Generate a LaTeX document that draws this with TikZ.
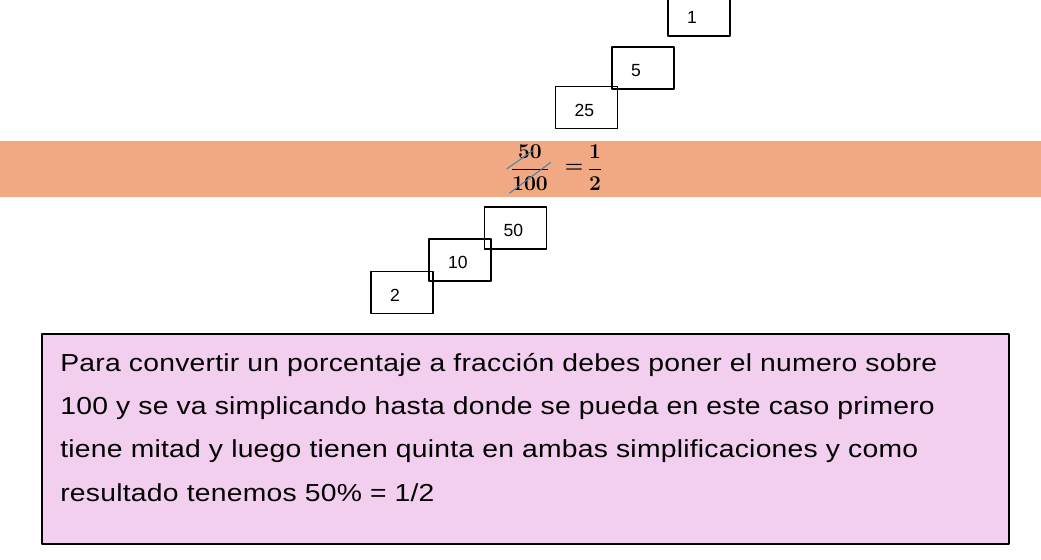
\documentclass[tikz,border=0pt]{standalone}
\usepackage{amsmath}
\usepackage{fontspec}
\setmainfont{Liberation Sans}
\newfontfamily\notefont[FakeStretch=1.15,LetterSpace=1]{Liberation Sans}
\usetikzlibrary{positioning}
\definecolor{bandc}{RGB}{241,169,131}
\definecolor{notec}{RGB}{242,207,238}
\definecolor{slashc}{RGB}{74,130,170}

\begin{document}
\begin{tikzpicture}[x=0.02cm,y=-0.02cm,line join=round,
  numbox/.style={draw,line width=1pt,minimum width=1.24cm,minimum height=0.84cm,inner xsep=0.38cm,text width=0.48cm,text height=1em,align=left,font=\fontsize{10}{12}\selectfont},
  fracnode/.style={inner sep=0pt,font=\fontsize{11.5}{14}\selectfont\boldmath}]
  \useasboundingbox (0,0) rectangle (1041,560);
  \fill[bandc] (0,141) rectangle (1041,197);
  % simplification steps above and below the band
  \node[numbox] (one) at (699,15) {1};
  \node[numbox] (five) at (643,68) {5};
  \node[numbox] (tfive) at (586.5,107.5) {25};
  \node[numbox] (fifty) at (515.5,228) {50};
  \node[numbox] (ten) at (460,260) {10};
  \node[numbox] (two) at (402,292.5) {2};
  % the fraction
  \node[fracnode] (frac) at (530,168) {$\dfrac{50}{100}$};
  \node[fracnode] (eq) at (574,168) {$=$};
  \node[fracnode] (half) at (595,168) {$\dfrac{1}{2}$};
  \draw[slashc,line width=0.6pt] (506.7,169)--(532.7,150.7); \draw[slashc,line width=0.6pt] (509.3,193.3)--(550.7,162.3);
  \node[draw,line width=1.1pt,fill=notec,minimum width=19.34cm,minimum height=4.2cm,anchor=north west] (note) at (41,333) {};
  \node[anchor=north west,inner sep=0pt,align=left,font=\notefont\fontsize{14}{24.6}\selectfont] (notetext) at (60,353)
    {Para convertir un porcentaje a fracción debes poner el numero sobre\\100 y se va simplicando hasta donde se pueda en este caso primero\\tiene mitad y luego tienen quinta en ambas simplificaciones y como\\resultado tenemos 50\% = 1/2};
\end{tikzpicture}
\end{document}
